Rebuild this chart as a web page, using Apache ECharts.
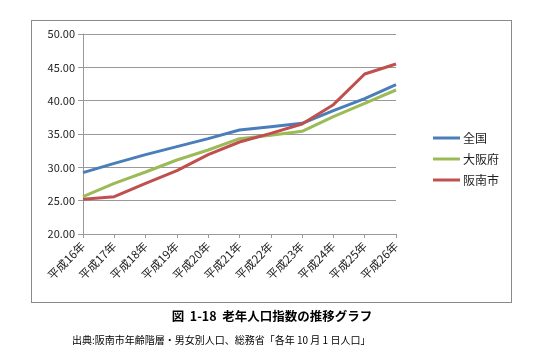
<!DOCTYPE html>
<html>
<head>
<meta charset="utf-8">
<script src="https://cdn.jsdelivr.net/npm/echarts@6/dist/echarts.min.js"></script>
<style>
html,body{margin:0;padding:0;background:#fff;}
#wrap{position:relative;width:547px;height:363px;}
#c{width:547px;height:363px;}
#frame{position:absolute;left:31px;top:20px;width:479px;height:281px;border:1px solid #8a8a8a;pointer-events:none;}
</style>
</head>
<body>
<div id="wrap"><div id="c"></div><div id="frame"></div></div>
<script>
const categories = ['平成16年','平成17年','平成18年','平成19年','平成20年','平成21年','平成22年','平成23年','平成24年','平成25年','平成26年'];
const zenkoku = [29.2, 30.6, 31.9, 33.1, 34.3, 35.6, 36.1, 36.6, 38.5, 40.3, 42.4];
const osakafu = [25.6, 27.6, 29.3, 31.1, 32.6, 34.3, 34.8, 35.4, 37.6, 39.6, 41.6];
const hannan = [25.2, 25.6, 27.6, 29.5, 31.9, 33.8, 35.1, 36.5, 39.4, 44.0, 45.5];
const seriesNames = ['全国','大阪府','阪南市'];
const yTicks = {min: 20, max: 50, interval: 5};
const captionText = '図  1-18  老年人口指数の推移グラフ';
const sourceText = '出典:阪南市年齢階層・男女別人口、総務省「各年 10 月 1 日人口」';

const colors = ['#4A7EBB', '#9BBB59', '#C0504D'];
const font = '"Noto Sans CJK JP", "Noto Sans", sans-serif';
const chart = echarts.init(document.getElementById('c'), null, {renderer: 'canvas'});
const mk = (name, data, color) => ({
  name, type: 'line', data, symbol: 'none', smooth: false,
  lineStyle: {width: 3, color}, itemStyle: {color}
});
chart.setOption({
  animation: false,
  textStyle: {fontFamily: font},
  grid: {left: 83, right: 151, top: 34, bottom: 129, containLabel: false},
  xAxis: {
    type: 'category', data: categories, boundaryGap: false,
    axisLine: {lineStyle: {color: '#999', width: 1}},
    axisTick: {show: true, alignWithLabel: true, length: 4, lineStyle: {color: '#999'}},
    axisLabel: {rotate: 45, fontSize: 11.5, color: '#222', margin: 10, interval: 0, fontFamily: font},
    splitLine: {show: false}
  },
  yAxis: {
    type: 'value', min: yTicks.min, max: yTicks.max, interval: yTicks.interval,
    axisLine: {show: true, lineStyle: {color: '#999', width: 1}},
    axisTick: {show: true, length: 5, lineStyle: {color: '#999'}},
    axisLabel: {fontSize: 11, color: '#222', margin: 8, formatter: v => v.toFixed(2), fontFamily: font},
    splitLine: {show: true, lineStyle: {color: '#999', width: 1}}
  },
  legend: {
    orient: 'vertical', left: 428, top: 127, itemGap: 9, itemWidth: 27, itemHeight: 3,
    icon: 'rect', data: seriesNames,
    textStyle: {fontSize: 12, color: '#222', padding: [0,0,0,-2], fontFamily: font}
  },
  graphic: [
    {type: 'text', x: 272, y: 316, style: {text: captionText, font: 'bold 12.5px ' + font, fill: '#000', align: 'center', verticalAlign: 'middle'}},
    {type: 'text', x: 72, y: 340, style: {text: sourceText, font: '10px ' + font, fill: '#000', verticalAlign: 'middle'}}
  ],
  series: [mk(seriesNames[0], zenkoku, colors[0]), mk(seriesNames[1], osakafu, colors[1]), mk(seriesNames[2], hannan, colors[2])]
});
</script>
</body>
</html>
